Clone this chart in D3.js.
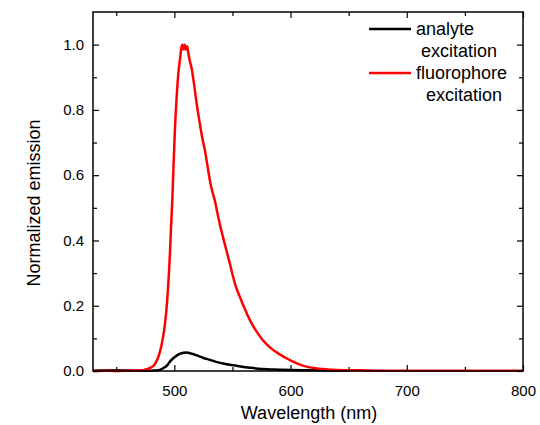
<!DOCTYPE html>
<html>
<head>
<meta charset="utf-8">
<script src="https://cdn.jsdelivr.net/npm/d3@7"></script>
<style>
  body { margin: 0; background: #fff; }
  text { font-family: "Liberation Sans", Arial, sans-serif; fill: #000; }
</style>
</head>
<body>
<div id="chart"></div>
<script>
// fluorophore excitation (red)
const redWl  = [430, 440, 450, 460, 466, 470, 474, 477, 480, 483, 485, 487, 489, 491, 493, 494.5, 496.2, 497, 498.2, 499, 500.5, 502, 503.4, 505, 506, 507, 508, 509, 510, 511, 512, 513, 515, 516.5, 517.7, 518.2, 520, 522, 524, 526.3, 528, 530.6, 532, 535, 537, 539, 542, 545, 548, 550.6, 553, 556.4, 560, 565, 570, 576, 583, 591, 598, 605, 612, 620, 630, 640, 660, 680, 700, 750, 800];
const redVal = [0, 0.001, 0, 0.001, 0.001, 0.002, 0.003, 0.006, 0.011, 0.02, 0.033, 0.052, 0.08, 0.12, 0.18, 0.25, 0.36, 0.43, 0.52, 0.6, 0.74, 0.84, 0.91, 0.96, 0.99, 1.0, 0.985, 1.0, 0.985, 0.995, 0.975, 0.955, 0.925, 0.89, 0.86, 0.845, 0.8, 0.757, 0.715, 0.676, 0.64, 0.584, 0.56, 0.52, 0.485, 0.452, 0.408, 0.367, 0.326, 0.288, 0.258, 0.227, 0.195, 0.156, 0.125, 0.095, 0.07, 0.05, 0.036, 0.024, 0.015, 0.009, 0.005, 0.003, 0.002, 0.001, 0.001, 0.001, 0.001];

// analyte excitation (black)
const blackWl  = [430, 450, 470, 480, 486, 488, 491, 494, 496, 499, 502, 505, 508, 510, 512, 516, 520, 525, 530, 536, 543, 550, 557, 565, 572, 580, 590, 600, 620, 650];
const blackVal = [0.001, 0.002, 0.001, 0.001, 0.002, 0.004, 0.01, 0.018, 0.028, 0.039, 0.047, 0.053, 0.056, 0.057, 0.056, 0.052, 0.047, 0.04, 0.035, 0.028, 0.022, 0.018, 0.014, 0.01, 0.007, 0.005, 0.004, 0.003, 0.002, 0.001];

const xMajor = [500, 600, 700, 800];
const xMinor = [450, 550, 650, 750];
const yMajor = [0, 0.2, 0.4, 0.6, 0.8, 1.0];
const yMinor = [0.1, 0.3, 0.5, 0.7, 0.9];

const legendLabels = [["analyte", "excitation"], ["fluorophore", "excitation"]];
const legendColors = ["#000", "#ff0000"];

const W = 540, H = 425;
const pLeft = 93, pRight = 523, pTop = 12, pBottom = 371;

const svg = d3.select("#chart").append("svg")
    .attr("width", W)
    .attr("height", H);

const x = d3.scaleLinear().domain([430, 800]).range([pLeft, pRight]);
const y = d3.scaleLinear().domain([0, 1.1]).range([pBottom, pTop]);

const line = d3.line()
    .curve(d3.curveMonotoneX)
    .x(d => x(d[0]))
    .y(d => y(d[1]));

svg.append("path")
    .datum(blackWl.map((w, i) => [w, blackVal[i]]))
    .attr("fill", "none")
    .attr("stroke", "#000")
    .attr("stroke-width", 2.5)
    .attr("d", line);

svg.append("path")
    .datum(redWl.map((w, i) => [w, redVal[i]]))
    .attr("fill", "none")
    .attr("stroke", "#ff0000")
    .attr("stroke-width", 2.5)
    .attr("d", line);

// frame
svg.append("rect")
    .attr("x", pLeft).attr("y", pTop)
    .attr("width", pRight - pLeft).attr("height", pBottom - pTop)
    .attr("fill", "none")
    .attr("stroke", "#000")
    .attr("stroke-width", 1.5);

function styleAxis(g) {
    g.select(".domain").remove();
    g.attr("font-size", null).attr("font-family", null);
    g.selectAll(".tick line").attr("stroke", "#000").attr("stroke-width", 1.2);
    g.selectAll("text").style("font-size", "15px");
}

// bottom
svg.append("g")
    .attr("transform", `translate(0,${pBottom})`)
    .call(d3.axisBottom(x).tickValues(xMajor).tickSize(-6).tickPadding(14).tickFormat(d3.format("d")))
    .call(styleAxis);
svg.append("g")
    .attr("transform", `translate(0,${pBottom})`)
    .call(d3.axisBottom(x).tickValues(xMinor).tickSize(-4).tickFormat(""))
    .call(styleAxis);
// top
svg.append("g")
    .attr("transform", `translate(0,${pTop})`)
    .call(d3.axisTop(x).tickValues(xMajor).tickSize(-6).tickFormat(""))
    .call(styleAxis);
svg.append("g")
    .attr("transform", `translate(0,${pTop})`)
    .call(d3.axisTop(x).tickValues(xMinor).tickSize(-4).tickFormat(""))
    .call(styleAxis);
// left
svg.append("g")
    .attr("transform", `translate(${pLeft},0)`)
    .call(d3.axisLeft(y).tickValues(yMajor).tickSize(-6).tickPadding(9).tickFormat(d3.format(".1f")))
    .call(styleAxis);
svg.append("g")
    .attr("transform", `translate(${pLeft},0)`)
    .call(d3.axisLeft(y).tickValues(yMinor).tickSize(-4).tickFormat(""))
    .call(styleAxis);
// right
svg.append("g")
    .attr("transform", `translate(${pRight},0)`)
    .call(d3.axisRight(y).tickValues(yMajor).tickSize(-6).tickFormat(""))
    .call(styleAxis);
svg.append("g")
    .attr("transform", `translate(${pRight},0)`)
    .call(d3.axisRight(y).tickValues(yMinor).tickSize(-4).tickFormat(""))
    .call(styleAxis);

// axis titles
svg.append("text")
    .attr("x", 309).attr("y", 419)
    .attr("text-anchor", "middle")
    .style("font-size", "18px")
    .text("Wavelength (nm)");

svg.append("text")
    .attr("transform", "translate(40,203) rotate(-90)")
    .attr("text-anchor", "middle")
    .style("font-size", "18px")
    .text("Normalized emission");

// legend
const legendY = [29, 73];
const subX = [421, 426];
legendLabels.forEach((lab, i) => {
    svg.append("line")
        .attr("x1", 369).attr("x2", 411)
        .attr("y1", legendY[i]).attr("y2", legendY[i])
        .attr("stroke", legendColors[i])
        .attr("stroke-width", 2.5);
    svg.append("text")
        .attr("x", 416).attr("y", legendY[i] + 6)
        .style("font-size", "18px")
        .text(lab[0]);
    svg.append("text")
        .attr("x", subX[i]).attr("y", legendY[i] + 28)
        .style("font-size", "18px")
        .text(lab[1]);
});
</script>
</body>
</html>
